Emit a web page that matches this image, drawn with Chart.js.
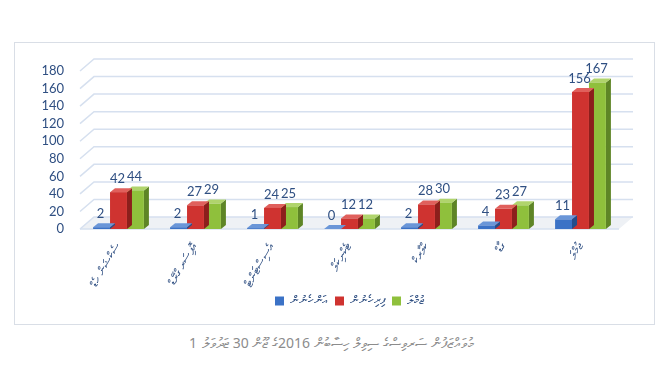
<!DOCTYPE html>
<html>
<head>
<meta charset="utf-8">
<script src="https://cdn.jsdelivr.net/npm/chart.js@4.4.1/dist/chart.umd.min.js"></script>
<style>
    body { margin: 0; background: #ffffff; width: 660px; height: 372px; position: relative; overflow: hidden; }
    #frame { position: absolute; left: 14px; top: 42px; width: 641px; height: 283px; border: 1px solid #d9dee6; box-sizing: border-box; }
    #wrap { position: absolute; left: 0; top: 0; width: 660px; height: 318px; }
    .cap { position: absolute; top: 333px; white-space: nowrap;
           font-family: "Noto Sans", "DejaVu Sans", sans-serif; font-size: 14px; color: #8c8c8c; }
    #capNum { left: 189px; }
    #capText { left: 202px; width: 312px; direction: rtl; text-align: left; unicode-bidi: isolate; }
</style>
</head>
<body>
<div id="frame"></div>
<div id="wrap"><canvas id="staffChart" width="660" height="318"></canvas></div>
<div class="cap" id="capNum">1</div>
<div class="cap" id="capText">މުވައްޒަފުން ސަރވިސްގެ ސިވިލް ހިސާބުން 2016ގެ ޖޫން 30 ޖަދުވަލު</div>

<script>
// Chart data
const categories = ['ސެކްޝަން ހެޑް', 'އޮފިސަރ ގްރޭޑް', 'އެސިސްޓަންޓް', 'ޓެކްނިކަލް', 'ކްލާރކް', 'ގާޑް', 'ޖުމްލަ'];
const womenValues = [2, 2, 1, 0, 2, 4, 11];
const menValues = [42, 27, 24, 12, 28, 23, 156];
const totalValues = [44, 29, 25, 12, 30, 27, 167];
const seriesNames = ['އަންހެނުން', 'ފިރިހެނުން', 'ޖުމްލަ'];
const yTicks = [0, 20, 40, 60, 80, 100, 120, 140, 160, 180];

// face colours for the fake 3D look: [front, side, top]
const faceColors = [
    ['#3b72c6', '#234d8c', '#6a96d8'],
    ['#cf3330', '#8c1f1c', '#e0605c'],
    ['#8fc03c', '#5e8526', '#b0d46c']
];

const BAR_DX = 5, BAR_DY = 4;     // bar depth
const WALL_DX = 14, WALL_DY = 12; // back wall offset

// Back wall grid + floor
const wallGrid = {
    id: 'wallGrid',
    beforeDatasetsDraw(chart) {
        const { ctx, chartArea } = chart;
        const y = chart.scales.y;
        ctx.save();
        // floor
        ctx.fillStyle = '#eef1f5';
        ctx.beginPath();
        ctx.moveTo(chartArea.left, y.getPixelForValue(0));
        ctx.lineTo(chartArea.left + WALL_DX, y.getPixelForValue(0) - WALL_DY);
        ctx.lineTo(chartArea.right + WALL_DX, y.getPixelForValue(0) - WALL_DY);
        ctx.lineTo(chartArea.right, y.getPixelForValue(0));
        ctx.closePath();
        ctx.fill();
        ctx.strokeStyle = '#d6e0ef';
        ctx.lineWidth = 1.5;
        yTicks.forEach(v => {
            const py = y.getPixelForValue(v);
            ctx.beginPath();
            ctx.moveTo(chartArea.left, py);
            ctx.lineTo(chartArea.left + WALL_DX, py - WALL_DY);
            ctx.lineTo(chartArea.right + WALL_DX, py - WALL_DY);
            ctx.stroke();
        });
        ctx.beginPath();
        ctx.moveTo(chartArea.left, y.getPixelForValue(0));
        ctx.lineTo(chartArea.right, y.getPixelForValue(0));
        ctx.stroke();
        ctx.restore();
    }
};

// Side and top faces, drawn before each dataset so the next series covers them
const barFaces = {
    id: 'barFaces',
    beforeDatasetDraw(chart, args) {
        const { ctx } = chart;
        const meta = chart.getDatasetMeta(args.index);
        const cols = faceColors[args.index];
        ctx.save();
        meta.data.forEach(bar => {
            const l = bar.x - bar.width / 2;
            const r = bar.x + bar.width / 2;
            const t = bar.y;
            const b = bar.base;
            ctx.fillStyle = cols[1];
            ctx.beginPath();
            ctx.moveTo(r, t);
            ctx.lineTo(r + BAR_DX, t - BAR_DY);
            ctx.lineTo(r + BAR_DX, b - BAR_DY);
            ctx.lineTo(r, b);
            ctx.closePath();
            ctx.fill();
            ctx.fillStyle = cols[2];
            ctx.beginPath();
            ctx.moveTo(l, t);
            ctx.lineTo(l + BAR_DX, t - BAR_DY);
            ctx.lineTo(r + BAR_DX, t - BAR_DY);
            ctx.lineTo(r, t);
            ctx.closePath();
            ctx.fill();
        });
        ctx.restore();
    },
    afterDatasetsDraw(chart) {
        const { ctx } = chart;
        ctx.save();
        ctx.font = '13px Lato, "Open Sans", sans-serif';
        ctx.fillStyle = '#2f4f82';
        ctx.textAlign = 'center';
        ctx.textBaseline = 'bottom';
        chart.data.datasets.forEach((ds, i) => {
            chart.getDatasetMeta(i).data.forEach((bar, j) => {
                ctx.fillText(String(ds.data[j]), bar.x - 1, bar.y - BAR_DY - 3);
            });
        });
        ctx.restore();
    }
};

const ctx = document.getElementById('staffChart').getContext('2d');
const staffChart = new Chart(ctx, {
    type: 'bar',
    data: {
        labels: categories,
        datasets: [
            { label: seriesNames[0], data: womenValues, backgroundColor: faceColors[0][0] },
            { label: seriesNames[1], data: menValues, backgroundColor: faceColors[1][0] },
            { label: seriesNames[2], data: totalValues, backgroundColor: faceColors[2][0] }
        ]
    },
    options: {
        responsive: false,
        animation: false,
        layout: { padding: { top: 71, right: 41, left: 0, bottom: 1 } },
        datasets: { bar: { categoryPercentage: 0.66, barPercentage: 1 } },
        plugins: {
            legend: {
                position: 'bottom',
                fullSize: false,
                labels: {
                    boxWidth: 9, boxHeight: 9, padding: 7,
                    color: '#2f4f82',
                    font: { family: '"Noto Sans", sans-serif', size: 12 }
                }
            },
            tooltip: { enabled: false }
        },
        scales: {
            x: {
                grid: { display: false },
                border: { display: false },
                ticks: {
                    color: '#2f4f82',
                    minRotation: 60, maxRotation: 60,
                    font: { family: '"Noto Sans", sans-serif', size: 12 }
                },
                afterFit(scale) { scale.height = 59; }
            },
            y: {
                min: 0, max: 180,
                grid: { display: false },
                border: { display: false },
                afterBuildTicks(scale) { scale.ticks = yTicks.map(v => ({ value: v })); },
                ticks: {
                    autoSkip: false,
                    color: '#2f4f82',
                    padding: 8,
                    font: { family: 'Lato, "Open Sans", sans-serif', size: 13 }
                },
                afterFit(scale) { scale.width = 80; }
            }
        }
    },
    plugins: [wallGrid, barFaces]
});
</script>
</body>
</html>
